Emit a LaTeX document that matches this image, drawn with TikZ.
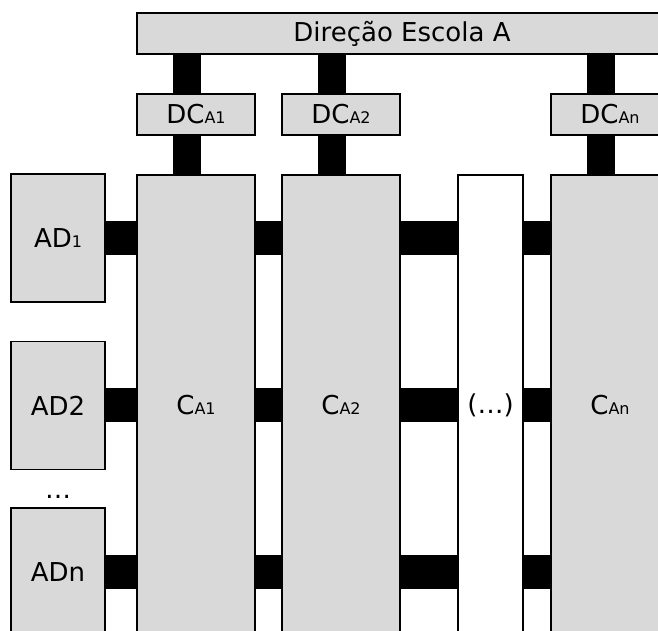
\documentclass[tikz,border=0pt]{standalone}
\usepackage{fontspec}
\setmainfont{DejaVu Sans}
\definecolor{boxgray}{HTML}{D9D9D9}
\newcommand{\subidx}[1]{{\fontsize{16}{16}\selectfont #1}}
\tikzset{
  box/.style={draw, line width=1.2pt, fill=boxgray, inner sep=0pt},
  dcbox/.style={box, minimum width=118pt, minimum height=41pt},
  colbox/.style={box, minimum width=118pt, minimum height=460pt},
  adbox/.style={box, minimum width=94pt, minimum height=128pt},
  vlink/.style={line width=28pt},
  hlink/.style={line width=34pt},
}
\begin{document}
\begin{tikzpicture}[x=1pt, y=1pt, every node/.style={font=\fontsize{26}{30}\selectfont}]
\useasboundingbox (0,0) rectangle (658,631);
\clip (0,0) rectangle (658,631);

% direcao
\node[box, minimum width=530pt, minimum height=41pt] (dir) at (402,597.5) {Direção Escola A};

% diretores de curso
\node[dcbox] (dcA1) at (196,516.5) {DC\subidx{A1}};
\node[dcbox] (dcA2) at (341,516.5) {DC\subidx{A2}};
\node[dcbox] (dcAn) at (610,516.5) {DC\subidx{An}};

% cursos
\node[colbox] (cA1) at (196,226) {C\subidx{A1}};
\node[colbox] (cA2) at (341,226) {C\subidx{A2}};
\node[colbox, fill=white, minimum width=65pt] (cdots) at (490.5,226) {(…)};
\node[colbox] (cAn) at (610,226) {C\subidx{An}};

% areas disciplinares
\node[adbox] (ad1) at (58,393) {AD\subidx{1}};
\node[adbox] (ad2) at (58,225.5) {AD2};
\node[adbox] (adn) at (58,59) {ADn};
\node[anchor=base] (addots) at (58,132) {…};

\draw[vlink] ([xshift=-9pt]dcA1.north) -- ([xshift=-9pt]dcA1.north |- dir.south);
\draw[vlink] ([xshift=-9pt]dcA2.north) -- ([xshift=-9pt]dcA2.north |- dir.south);
\draw[vlink] ([xshift=-9pt]dcAn.north) -- ([xshift=-9pt]dcAn.north |- dir.south);

\draw[vlink] ([xshift=-9pt]dcA1.south) -- ([xshift=-9pt]dcA1.south |- cA1.north);
\draw[vlink] ([xshift=-9pt]dcA2.south) -- ([xshift=-9pt]dcA2.south |- cA2.north);
\draw[vlink] ([xshift=-9pt]dcAn.south) -- ([xshift=-9pt]dcAn.south |- cAn.north);

\draw[hlink] (ad1.east) -- (ad1 -| cA1.west);
\draw[hlink] (ad1 -| cA1.east) -- (ad1 -| cA2.west);
\draw[hlink] (ad1 -| cA2.east) -- (ad1 -| cdots.west);
\draw[hlink] (ad1 -| cdots.east) -- (ad1 -| cAn.west);

\draw[hlink] (ad2.east) -- (ad2 -| cA1.west);
\draw[hlink] (ad2 -| cA1.east) -- (ad2 -| cA2.west);
\draw[hlink] (ad2 -| cA2.east) -- (ad2 -| cdots.west);
\draw[hlink] (ad2 -| cdots.east) -- (ad2 -| cAn.west);

\draw[hlink] (adn.east) -- (adn -| cA1.west);
\draw[hlink] (adn -| cA1.east) -- (adn -| cA2.west);
\draw[hlink] (adn -| cA2.east) -- (adn -| cdots.west);
\draw[hlink] (adn -| cdots.east) -- (adn -| cAn.west);
\end{tikzpicture}
\end{document}
